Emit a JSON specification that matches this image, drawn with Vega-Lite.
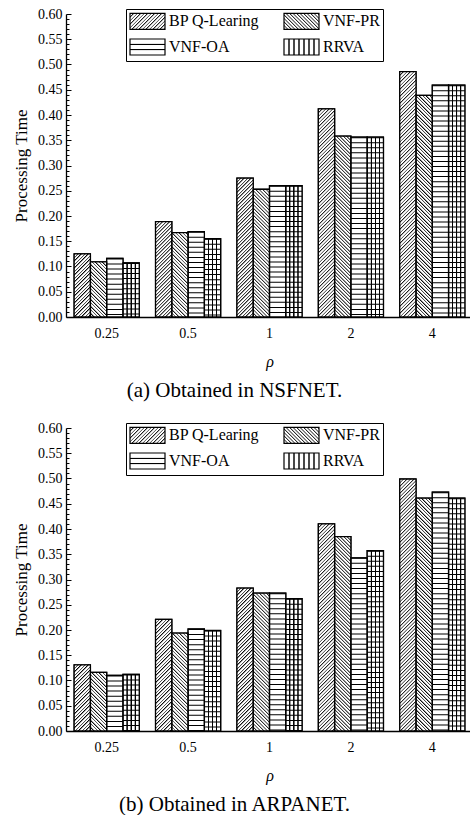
{
"$schema": "https://vega.github.io/schema/vega-lite/v6.json",
"padding": {"left": 12, "top": 7, "right": 0, "bottom": 0},
"background": "white",
"config": {
  "view": {"stroke": null},
  "font": "Liberation Serif, Times New Roman, Times, serif",
  "axis": {"labelFont": "Liberation Serif, Times New Roman, Times, serif", "titleFont": "Liberation Serif, Times New Roman, Times, serif", "labelColor": "black", "titleColor": "black", "domainColor": "black", "tickColor": "black", "grid": false},
  "legend": {"labelFont": "Liberation Serif, Times New Roman, Times, serif", "labelFontSize": 16, "labelColor": "black", "symbolType": "M-1,-1H3.375V1H-1Z", "symbolSize": 256, "symbolStrokeColor": "black", "symbolStrokeWidth": 1.2, "labelOffset": 22, "rowPadding": 4, "columnPadding": 21, "padding": 3, "strokeColor": "black", "fillColor": "white"}
},
"params": [
  {"name": "dstops", "value": [
{"offset":0,"color":"#000"},{"offset":0.006,"color":"#fff"},{"offset":0.0113,"color":"#fff"},
{"offset":0.0125,"color":"#000"},{"offset":0.0185,"color":"#fff"},{"offset":0.0238,"color":"#fff"},
{"offset":0.025,"color":"#000"},{"offset":0.031,"color":"#fff"},{"offset":0.0363,"color":"#fff"},
{"offset":0.0375,"color":"#000"},{"offset":0.0435,"color":"#fff"},{"offset":0.0488,"color":"#fff"},
{"offset":0.05,"color":"#000"},{"offset":0.056,"color":"#fff"},{"offset":0.0613,"color":"#fff"},
{"offset":0.0625,"color":"#000"},{"offset":0.0685,"color":"#fff"},{"offset":0.0738,"color":"#fff"},
{"offset":0.075,"color":"#000"},{"offset":0.081,"color":"#fff"},{"offset":0.0863,"color":"#fff"},
{"offset":0.0875,"color":"#000"},{"offset":0.0935,"color":"#fff"},{"offset":0.0988,"color":"#fff"},
{"offset":0.1,"color":"#000"},{"offset":0.106,"color":"#fff"},{"offset":0.1113,"color":"#fff"},
{"offset":0.1125,"color":"#000"},{"offset":0.1185,"color":"#fff"},{"offset":0.1238,"color":"#fff"},
{"offset":0.125,"color":"#000"},{"offset":0.131,"color":"#fff"},{"offset":0.1363,"color":"#fff"},
{"offset":0.1375,"color":"#000"},{"offset":0.1435,"color":"#fff"},{"offset":0.1488,"color":"#fff"},
{"offset":0.15,"color":"#000"},{"offset":0.156,"color":"#fff"},{"offset":0.1613,"color":"#fff"},
{"offset":0.1625,"color":"#000"},{"offset":0.1685,"color":"#fff"},{"offset":0.1738,"color":"#fff"},
{"offset":0.175,"color":"#000"},{"offset":0.181,"color":"#fff"},{"offset":0.1863,"color":"#fff"},
{"offset":0.1875,"color":"#000"},{"offset":0.1935,"color":"#fff"},{"offset":0.1988,"color":"#fff"},
{"offset":0.2,"color":"#000"},{"offset":0.206,"color":"#fff"},{"offset":0.2113,"color":"#fff"},
{"offset":0.2125,"color":"#000"},{"offset":0.2185,"color":"#fff"},{"offset":0.2238,"color":"#fff"},
{"offset":0.225,"color":"#000"},{"offset":0.231,"color":"#fff"},{"offset":0.2363,"color":"#fff"},
{"offset":0.2375,"color":"#000"},{"offset":0.2435,"color":"#fff"},{"offset":0.2488,"color":"#fff"},
{"offset":0.25,"color":"#000"},{"offset":0.256,"color":"#fff"},{"offset":0.2613,"color":"#fff"},
{"offset":0.2625,"color":"#000"},{"offset":0.2685,"color":"#fff"},{"offset":0.2738,"color":"#fff"},
{"offset":0.275,"color":"#000"},{"offset":0.281,"color":"#fff"},{"offset":0.2863,"color":"#fff"},
{"offset":0.2875,"color":"#000"},{"offset":0.2935,"color":"#fff"},{"offset":0.2988,"color":"#fff"},
{"offset":0.3,"color":"#000"},{"offset":0.306,"color":"#fff"},{"offset":0.3113,"color":"#fff"},
{"offset":0.3125,"color":"#000"},{"offset":0.3185,"color":"#fff"},{"offset":0.3238,"color":"#fff"},
{"offset":0.325,"color":"#000"},{"offset":0.331,"color":"#fff"},{"offset":0.3363,"color":"#fff"},
{"offset":0.3375,"color":"#000"},{"offset":0.3435,"color":"#fff"},{"offset":0.3488,"color":"#fff"},
{"offset":0.35,"color":"#000"},{"offset":0.356,"color":"#fff"},{"offset":0.3613,"color":"#fff"},
{"offset":0.3625,"color":"#000"},{"offset":0.3685,"color":"#fff"},{"offset":0.3738,"color":"#fff"},
{"offset":0.375,"color":"#000"},{"offset":0.381,"color":"#fff"},{"offset":0.3863,"color":"#fff"},
{"offset":0.3875,"color":"#000"},{"offset":0.3935,"color":"#fff"},{"offset":0.3988,"color":"#fff"},
{"offset":0.4,"color":"#000"},{"offset":0.406,"color":"#fff"},{"offset":0.4113,"color":"#fff"},
{"offset":0.4125,"color":"#000"},{"offset":0.4185,"color":"#fff"},{"offset":0.4238,"color":"#fff"},
{"offset":0.425,"color":"#000"},{"offset":0.431,"color":"#fff"},{"offset":0.4363,"color":"#fff"},
{"offset":0.4375,"color":"#000"},{"offset":0.4435,"color":"#fff"},{"offset":0.4488,"color":"#fff"},
{"offset":0.45,"color":"#000"},{"offset":0.456,"color":"#fff"},{"offset":0.4613,"color":"#fff"},
{"offset":0.4625,"color":"#000"},{"offset":0.4685,"color":"#fff"},{"offset":0.4738,"color":"#fff"},
{"offset":0.475,"color":"#000"},{"offset":0.481,"color":"#fff"},{"offset":0.4863,"color":"#fff"},
{"offset":0.4875,"color":"#000"},{"offset":0.4935,"color":"#fff"},{"offset":0.4988,"color":"#fff"},
{"offset":0.5,"color":"#000"},{"offset":0.506,"color":"#fff"},{"offset":0.5113,"color":"#fff"},
{"offset":0.5125,"color":"#000"},{"offset":0.5185,"color":"#fff"},{"offset":0.5238,"color":"#fff"},
{"offset":0.525,"color":"#000"},{"offset":0.531,"color":"#fff"},{"offset":0.5363,"color":"#fff"},
{"offset":0.5375,"color":"#000"},{"offset":0.5435,"color":"#fff"},{"offset":0.5488,"color":"#fff"},
{"offset":0.55,"color":"#000"},{"offset":0.556,"color":"#fff"},{"offset":0.5613,"color":"#fff"},
{"offset":0.5625,"color":"#000"},{"offset":0.5685,"color":"#fff"},{"offset":0.5738,"color":"#fff"},
{"offset":0.575,"color":"#000"},{"offset":0.581,"color":"#fff"},{"offset":0.5863,"color":"#fff"},
{"offset":0.5875,"color":"#000"},{"offset":0.5935,"color":"#fff"},{"offset":0.5988,"color":"#fff"},
{"offset":0.6,"color":"#000"},{"offset":0.606,"color":"#fff"},{"offset":0.6113,"color":"#fff"},
{"offset":0.6125,"color":"#000"},{"offset":0.6185,"color":"#fff"},{"offset":0.6238,"color":"#fff"},
{"offset":0.625,"color":"#000"},{"offset":0.631,"color":"#fff"},{"offset":0.6363,"color":"#fff"},
{"offset":0.6375,"color":"#000"},{"offset":0.6435,"color":"#fff"},{"offset":0.6488,"color":"#fff"},
{"offset":0.65,"color":"#000"},{"offset":0.656,"color":"#fff"},{"offset":0.6613,"color":"#fff"},
{"offset":0.6625,"color":"#000"},{"offset":0.6685,"color":"#fff"},{"offset":0.6738,"color":"#fff"},
{"offset":0.675,"color":"#000"},{"offset":0.681,"color":"#fff"},{"offset":0.6863,"color":"#fff"},
{"offset":0.6875,"color":"#000"},{"offset":0.6935,"color":"#fff"},{"offset":0.6988,"color":"#fff"},
{"offset":0.7,"color":"#000"},{"offset":0.706,"color":"#fff"},{"offset":0.7113,"color":"#fff"},
{"offset":0.7125,"color":"#000"},{"offset":0.7185,"color":"#fff"},{"offset":0.7238,"color":"#fff"},
{"offset":0.725,"color":"#000"},{"offset":0.731,"color":"#fff"},{"offset":0.7363,"color":"#fff"},
{"offset":0.7375,"color":"#000"},{"offset":0.7435,"color":"#fff"},{"offset":0.7488,"color":"#fff"},
{"offset":0.75,"color":"#000"},{"offset":0.756,"color":"#fff"},{"offset":0.7613,"color":"#fff"},
{"offset":0.7625,"color":"#000"},{"offset":0.7685,"color":"#fff"},{"offset":0.7738,"color":"#fff"},
{"offset":0.775,"color":"#000"},{"offset":0.781,"color":"#fff"},{"offset":0.7863,"color":"#fff"},
{"offset":0.7875,"color":"#000"},{"offset":0.7935,"color":"#fff"},{"offset":0.7988,"color":"#fff"},
{"offset":0.8,"color":"#000"},{"offset":0.806,"color":"#fff"},{"offset":0.8113,"color":"#fff"},
{"offset":0.8125,"color":"#000"},{"offset":0.8185,"color":"#fff"},{"offset":0.8238,"color":"#fff"},
{"offset":0.825,"color":"#000"},{"offset":0.831,"color":"#fff"},{"offset":0.8363,"color":"#fff"},
{"offset":0.8375,"color":"#000"},{"offset":0.8435,"color":"#fff"},{"offset":0.8488,"color":"#fff"},
{"offset":0.85,"color":"#000"},{"offset":0.856,"color":"#fff"},{"offset":0.8613,"color":"#fff"},
{"offset":0.8625,"color":"#000"},{"offset":0.8685,"color":"#fff"},{"offset":0.8738,"color":"#fff"},
{"offset":0.875,"color":"#000"},{"offset":0.881,"color":"#fff"},{"offset":0.8863,"color":"#fff"},
{"offset":0.8875,"color":"#000"},{"offset":0.8935,"color":"#fff"},{"offset":0.8988,"color":"#fff"},
{"offset":0.9,"color":"#000"},{"offset":0.906,"color":"#fff"},{"offset":0.9113,"color":"#fff"},
{"offset":0.9125,"color":"#000"},{"offset":0.9185,"color":"#fff"},{"offset":0.9238,"color":"#fff"},
{"offset":0.925,"color":"#000"},{"offset":0.931,"color":"#fff"},{"offset":0.9363,"color":"#fff"},
{"offset":0.9375,"color":"#000"},{"offset":0.9435,"color":"#fff"},{"offset":0.9488,"color":"#fff"},
{"offset":0.95,"color":"#000"},{"offset":0.956,"color":"#fff"},{"offset":0.9613,"color":"#fff"},
{"offset":0.9625,"color":"#000"},{"offset":0.9685,"color":"#fff"},{"offset":0.9738,"color":"#fff"},
{"offset":0.975,"color":"#000"},{"offset":0.981,"color":"#fff"},{"offset":0.9863,"color":"#fff"},
{"offset":0.9875,"color":"#000"},{"offset":0.9935,"color":"#fff"},{"offset":1,"color":"#fff"}
  ]},
  {"name": "vstops", "value": [
{"offset":0,"color":"#fff"},{"offset":0.2,"color":"#fff"},{"offset":0.225,"color":"#000"},{"offset":0.275,"color":"#000"},{"offset":0.3,"color":"#fff"},
{"offset":0.45,"color":"#fff"},{"offset":0.475,"color":"#000"},{"offset":0.525,"color":"#000"},{"offset":0.55,"color":"#fff"},
{"offset":0.7,"color":"#fff"},{"offset":0.725,"color":"#000"},{"offset":0.775,"color":"#000"},{"offset":0.8,"color":"#fff"},{"offset":1,"color":"#fff"}
  ]},
  {"name": "vlstops", "value": [
{"offset":0,"color":"#fff"},
{"offset":0.1179,"color":"#fff"},{"offset":0.1329,"color":"#000"},{"offset":0.1529,"color":"#000"},{"offset":0.1679,"color":"#fff"},
{"offset":0.2607,"color":"#fff"},{"offset":0.2757,"color":"#000"},{"offset":0.2957,"color":"#000"},{"offset":0.3107,"color":"#fff"},
{"offset":0.4036,"color":"#fff"},{"offset":0.4186,"color":"#000"},{"offset":0.4386,"color":"#000"},{"offset":0.4536,"color":"#fff"},
{"offset":0.5464,"color":"#fff"},{"offset":0.5614,"color":"#000"},{"offset":0.5814,"color":"#000"},{"offset":0.5964,"color":"#fff"},
{"offset":0.6893,"color":"#fff"},{"offset":0.7043,"color":"#000"},{"offset":0.7243,"color":"#000"},{"offset":0.7393,"color":"#fff"},
{"offset":0.8321,"color":"#fff"},{"offset":0.8471,"color":"#000"},{"offset":0.8671,"color":"#000"},{"offset":0.8821,"color":"#fff"},
{"offset":1,"color":"#fff"}
  ]},
  {"name": "hlstops", "value": [
{"offset":0,"color":"#fff"},
{"offset":0.2783,"color":"#fff"},{"offset":0.3083,"color":"#000"},{"offset":0.3583,"color":"#000"},{"offset":0.3883,"color":"#fff"},
{"offset":0.6117,"color":"#fff"},{"offset":0.6417,"color":"#000"},{"offset":0.6917,"color":"#000"},{"offset":0.7217,"color":"#fff"},
{"offset":1,"color":"#fff"}
  ]}
],
"datasets": {
  "nsf": [
    {"rho": "0.25", "series": "BP Q-Learing", "value": 0.125},
    {"rho": "0.25", "series": "VNF-PR", "value": 0.109},
    {"rho": "0.25", "series": "VNF-OA", "value": 0.116},
    {"rho": "0.25", "series": "RRVA", "value": 0.107},
    {"rho": "0.5", "series": "BP Q-Learing", "value": 0.189},
    {"rho": "0.5", "series": "VNF-PR", "value": 0.167},
    {"rho": "0.5", "series": "VNF-OA", "value": 0.169},
    {"rho": "0.5", "series": "RRVA", "value": 0.155},
    {"rho": "1", "series": "BP Q-Learing", "value": 0.275},
    {"rho": "1", "series": "VNF-PR", "value": 0.253},
    {"rho": "1", "series": "VNF-OA", "value": 0.26},
    {"rho": "1", "series": "RRVA", "value": 0.26},
    {"rho": "2", "series": "BP Q-Learing", "value": 0.412},
    {"rho": "2", "series": "VNF-PR", "value": 0.358},
    {"rho": "2", "series": "VNF-OA", "value": 0.356},
    {"rho": "2", "series": "RRVA", "value": 0.356},
    {"rho": "4", "series": "BP Q-Learing", "value": 0.486},
    {"rho": "4", "series": "VNF-PR", "value": 0.439},
    {"rho": "4", "series": "VNF-OA", "value": 0.459},
    {"rho": "4", "series": "RRVA", "value": 0.459}
  ],
  "arpa": [
    {"rho": "0.25", "series": "BP Q-Learing", "value": 0.131},
    {"rho": "0.25", "series": "VNF-PR", "value": 0.116},
    {"rho": "0.25", "series": "VNF-OA", "value": 0.11},
    {"rho": "0.25", "series": "RRVA", "value": 0.112},
    {"rho": "0.5", "series": "BP Q-Learing", "value": 0.221},
    {"rho": "0.5", "series": "VNF-PR", "value": 0.194},
    {"rho": "0.5", "series": "VNF-OA", "value": 0.202},
    {"rho": "0.5", "series": "RRVA", "value": 0.199},
    {"rho": "1", "series": "BP Q-Learing", "value": 0.283},
    {"rho": "1", "series": "VNF-PR", "value": 0.273},
    {"rho": "1", "series": "VNF-OA", "value": 0.273},
    {"rho": "1", "series": "RRVA", "value": 0.262},
    {"rho": "2", "series": "BP Q-Learing", "value": 0.41},
    {"rho": "2", "series": "VNF-PR", "value": 0.385},
    {"rho": "2", "series": "VNF-OA", "value": 0.343},
    {"rho": "2", "series": "RRVA", "value": 0.357},
    {"rho": "4", "series": "BP Q-Learing", "value": 0.499},
    {"rho": "4", "series": "VNF-PR", "value": 0.461},
    {"rho": "4", "series": "VNF-OA", "value": 0.473},
    {"rho": "4", "series": "RRVA", "value": 0.461}
  ]
},
"resolve": {"scale": {"fill": "independent"}, "legend": {"fill": "independent"}},
"spacing": 20,
"vconcat": [
  {
    "data": {"name": "nsf"},
    "width": 407, "height": 303,
    "title": {"text": "(a) Obtained in NSFNET.", "orient": "bottom", "anchor": "middle", "frame": "group", "dx": -35, "offset": 11, "fontSize": 21, "fontWeight": "normal", "font": "Liberation Serif, Times New Roman, Times, serif", "color": "black"},
    "encoding": {
      "x": {"field": "rho", "type": "nominal", "sort": ["0.25", "0.5", "1", "2", "4"], "scale": {"paddingInner": 0.2, "paddingOuter": 0.1},
        "axis": {"title": "ρ", "titleFontStyle": "italic", "titleFontWeight": "normal", "titleFontSize": 16, "titlePadding": 13, "labelAngle": 0, "labelFontSize": 14, "labelPadding": 9, "ticks": false, "domainWidth": 1.3}},
      "xOffset": {"field": "series", "type": "nominal", "sort": ["BP Q-Learing", "VNF-PR", "VNF-OA", "RRVA"], "scale": {"paddingInner": 0, "paddingOuter": 0}},
      "y": {"field": "value", "type": "quantitative", "scale": {"domain": [0, 0.6], "nice": false},
        "axis": {"title": "Processing Time", "titleFontSize": 17, "titleFontWeight": "normal", "titlePadding": 7,
          "values": [0,0.01,0.02,0.03,0.04,0.05,0.06,0.07,0.08,0.09,0.1,0.11,0.12,0.13,0.14,0.15,0.16,0.17,0.18,0.19,0.2,0.21,0.22,0.23,0.24,0.25,0.26,0.27,0.28,0.29,0.3,0.31,0.32,0.33,0.34,0.35,0.36,0.37,0.38,0.39,0.4,0.41,0.42,0.43,0.44,0.45,0.46,0.47,0.48,0.49,0.5,0.51,0.52,0.53,0.54,0.55,0.56,0.57,0.58,0.59,0.6],
          "labelExpr": "abs(datum.value*20 - round(datum.value*20)) < 0.001 ? format(datum.value, '.2f') : ''",
          "labelFontSize": 14, "labelPadding": 9, "labelOverlap": false, "labelFlush": false,
          "tickSize": {"condition": {"test": "abs(datum.value*20 - round(datum.value*20)) < 0.001", "value": -5}, "value": -3},
          "tickWidth": 1, "domainWidth": 1.3}}
    },
    "layer": [
      {"mark": {"type": "bar", "stroke": "black", "strokeWidth": 1.2},
       "encoding": {"fill": {"field": "series", "type": "nominal",
         "scale": {"domain": ["BP Q-Learing", "VNF-OA", "VNF-PR", "RRVA"],
           "range": [{"expr": "{gradient: 'linear', x1: 0, y1: 0, x2: 6.617, y2: 3.025, stops: dstops}"}, {"expr": "{gradient: 'linear', x1: 0, y1: 0, x2: 0, y2: 1, stops: hlstops}"}, {"expr": "{gradient: 'linear', x1: 0, y1: 1, x2: 6.617, y2: -2.025, stops: dstops}"}, {"expr": "{gradient: 'linear', x1: 0, y1: 0, x2: 1, y2: 0, stops: vlstops}"}]},
         "legend": {"title": null, "orient": "none", "legendX": 60, "legendY": -5, "columns": 2}}}},
      {"mark": {"type": "bar", "fill": {"expr": "datum.series == 'BP Q-Learing' ? {gradient: 'linear', x1: 0, y1: 0, x2: 4564/(265.7 + pow(datum.value*505, 2)), y2: 141400*datum.value/(265.7 + pow(datum.value*505, 2)), stops: dstops} : datum.series == 'VNF-PR' ? {gradient: 'linear', x1: 0, y1: 1, x2: 4564/(265.7 + pow(datum.value*505, 2)), y2: 1 - 141400*datum.value/(265.7 + pow(datum.value*505, 2)), stops: dstops} : datum.series == 'RRVA' ? {gradient: 'linear', x1: 0, y1: 0, x2: 1, y2: 0, stops: vstops} : '#fff'"}}},
      {"transform": [{"filter": "datum.series == 'VNF-OA' || datum.series == 'RRVA'"}],
       "mark": {"type": "rule", "color": "black", "strokeWidth": 16.3, "strokeDash": [1, 4.05], "strokeCap": "butt"},
       "encoding": {"y2": {"datum": 0}}},
      {"mark": {"type": "bar", "fillOpacity": 0, "stroke": "black", "strokeWidth": 1.3}}
    ]
  },
  {
    "data": {"name": "arpa"},
    "width": 407, "height": 303,
    "title": {"text": "(b) Obtained in ARPANET.", "orient": "bottom", "anchor": "middle", "frame": "group", "dx": -35, "offset": 11, "fontSize": 21, "fontWeight": "normal", "font": "Liberation Serif, Times New Roman, Times, serif", "color": "black"},
    "encoding": {
      "x": {"field": "rho", "type": "nominal", "sort": ["0.25", "0.5", "1", "2", "4"], "scale": {"paddingInner": 0.2, "paddingOuter": 0.1},
        "axis": {"title": "ρ", "titleFontStyle": "italic", "titleFontWeight": "normal", "titleFontSize": 16, "titlePadding": 13, "labelAngle": 0, "labelFontSize": 14, "labelPadding": 9, "ticks": false, "domainWidth": 1.3}},
      "xOffset": {"field": "series", "type": "nominal", "sort": ["BP Q-Learing", "VNF-PR", "VNF-OA", "RRVA"], "scale": {"paddingInner": 0, "paddingOuter": 0}},
      "y": {"field": "value", "type": "quantitative", "scale": {"domain": [0, 0.6], "nice": false},
        "axis": {"title": "Processing Time", "titleFontSize": 17, "titleFontWeight": "normal", "titlePadding": 7,
          "values": [0,0.01,0.02,0.03,0.04,0.05,0.06,0.07,0.08,0.09,0.1,0.11,0.12,0.13,0.14,0.15,0.16,0.17,0.18,0.19,0.2,0.21,0.22,0.23,0.24,0.25,0.26,0.27,0.28,0.29,0.3,0.31,0.32,0.33,0.34,0.35,0.36,0.37,0.38,0.39,0.4,0.41,0.42,0.43,0.44,0.45,0.46,0.47,0.48,0.49,0.5,0.51,0.52,0.53,0.54,0.55,0.56,0.57,0.58,0.59,0.6],
          "labelExpr": "abs(datum.value*20 - round(datum.value*20)) < 0.001 ? format(datum.value, '.2f') : ''",
          "labelFontSize": 14, "labelPadding": 9, "labelOverlap": false, "labelFlush": false,
          "tickSize": {"condition": {"test": "abs(datum.value*20 - round(datum.value*20)) < 0.001", "value": -5}, "value": -3},
          "tickWidth": 1, "domainWidth": 1.3}}
    },
    "layer": [
      {"mark": {"type": "bar", "stroke": "black", "strokeWidth": 1.2},
       "encoding": {"fill": {"field": "series", "type": "nominal",
         "scale": {"domain": ["BP Q-Learing", "VNF-OA", "VNF-PR", "RRVA"],
           "range": [{"expr": "{gradient: 'linear', x1: 0, y1: 0, x2: 6.617, y2: 3.025, stops: dstops}"}, {"expr": "{gradient: 'linear', x1: 0, y1: 0, x2: 0, y2: 1, stops: hlstops}"}, {"expr": "{gradient: 'linear', x1: 0, y1: 1, x2: 6.617, y2: -2.025, stops: dstops}"}, {"expr": "{gradient: 'linear', x1: 0, y1: 0, x2: 1, y2: 0, stops: vlstops}"}]},
         "legend": {"title": null, "orient": "none", "legendX": 60, "legendY": -5, "columns": 2}}}},
      {"mark": {"type": "bar", "fill": {"expr": "datum.series == 'BP Q-Learing' ? {gradient: 'linear', x1: 0, y1: 0, x2: 4564/(265.7 + pow(datum.value*505, 2)), y2: 141400*datum.value/(265.7 + pow(datum.value*505, 2)), stops: dstops} : datum.series == 'VNF-PR' ? {gradient: 'linear', x1: 0, y1: 1, x2: 4564/(265.7 + pow(datum.value*505, 2)), y2: 1 - 141400*datum.value/(265.7 + pow(datum.value*505, 2)), stops: dstops} : datum.series == 'RRVA' ? {gradient: 'linear', x1: 0, y1: 0, x2: 1, y2: 0, stops: vstops} : '#fff'"}}},
      {"transform": [{"filter": "datum.series == 'VNF-OA' || datum.series == 'RRVA'"}],
       "mark": {"type": "rule", "color": "black", "strokeWidth": 16.3, "strokeDash": [1, 4.05], "strokeCap": "butt"},
       "encoding": {"y2": {"datum": 0}}},
      {"mark": {"type": "bar", "fillOpacity": 0, "stroke": "black", "strokeWidth": 1.3}}
    ]
  }
]
}
